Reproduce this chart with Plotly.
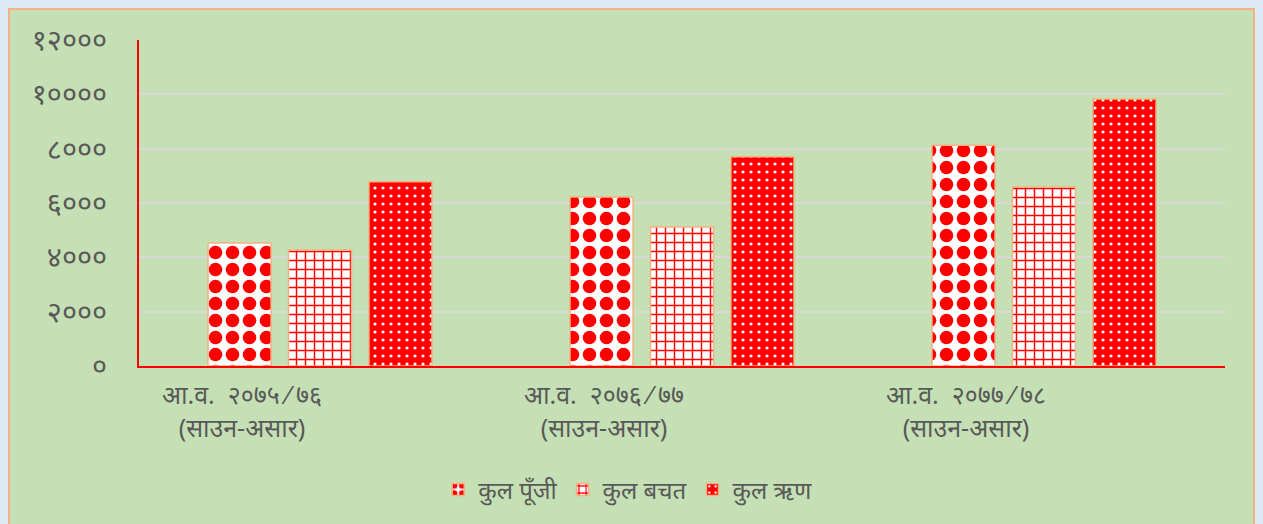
import plotly.graph_objects as go

categories = ["आ.व.  २०७५ ⁄ ७६<br>(साउन-असार)",
              "आ.व.  २०७६ ⁄ ७७<br>(साउन-असार)",
              "आ.व.  २०७७ ⁄ ७८<br>(साउन-असार)"]
series_names = ["कुल पूँजी", "कुल बचत", "कुल ऋण"]
punji = [4530, 6220, 8130]
bachat = [4270, 5120, 6590]
rin = [6780, 7700, 9830]
tick_vals = [0, 2000, 4000, 6000, 8000, 10000, 12000]
tick_text = ["०", "२०००", "४०००", "६०००", "८०००", "१००००", "१२०००"]

RED = "#ff0000"
OUTLINE = "#f4b183"
TXT = "#595959"
FONT = "Noto Sans, Lohit Devanagari, FreeSans, sans-serif"

fig = go.Figure()
fig.add_trace(go.Bar(
    x=categories, y=punji, name=series_names[0],
    marker=dict(color="white", line=dict(color=OUTLINE, width=1.5),
                pattern=dict(shape=".", fgcolor=RED, bgcolor="white",
                             size=17, solidity=0.5, fillmode="replace"))))
fig.add_trace(go.Bar(
    x=categories, y=bachat, name=series_names[1],
    marker=dict(color="white", line=dict(color=OUTLINE, width=1.5),
                pattern=dict(shape="+", fgcolor=RED, bgcolor="white",
                             size=9, solidity=0.3, fillmode="replace"))))
fig.add_trace(go.Bar(
    x=categories, y=rin, name=series_names[2],
    marker=dict(color=RED, line=dict(color=OUTLINE, width=1.5),
                pattern=dict(shape=".", fgcolor="white", bgcolor=RED,
                             size=8, solidity=0.12, fillmode="replace"))))

W, H = 1263, 524
L, R, T, B = 139, 38, 40, 158
pw, ph = W - L - R, H - T - B

# green chart-area box with orange border (paper coords, extending beyond the plot area)
fig.add_shape(type="rect", xref="paper", yref="paper", layer="below",
              x0=(9 - L) / pw, x1=(1254 - L) / pw,
              y0=-(B + 10) / ph, y1=1 + (T - 9) / ph,
              fillcolor="#c5e0b4", line=dict(color=OUTLINE, width=2))

fig.update_layout(
    width=W, height=H,
    margin=dict(l=L, r=R, t=T, b=B),
    paper_bgcolor="#dee9f6",
    plot_bgcolor="rgba(0,0,0,0)",
    barmode="group", bargap=0.333, bargroupgap=0.217,
    font=dict(family=FONT, color=TXT, size=24),
    showlegend=True,
    legend=dict(orientation="h", x=0.45, xanchor="center", y=-0.38, yanchor="middle",
                font=dict(size=24, color=TXT, family=FONT), bgcolor="rgba(0,0,0,0)",
                itemwidth=30),
    xaxis=dict(showline=True, linecolor=RED, linewidth=2, showgrid=False,
               tickfont=dict(size=25, color=TXT, family=FONT),
               ticklabelshift=-78, ticklabelstandoff=6),
    yaxis=dict(range=[0, 12000], tickvals=tick_vals, ticktext=tick_text,
               showline=True, linecolor=RED, linewidth=2,
               showgrid=True, gridcolor="#d9d9d9", gridwidth=1.5, zeroline=False,
               tickfont=dict(size=29, color=TXT, family=FONT),
               ticklabelstandoff=24),
)

fig.write_html("out.html", config={"displayModeBar": False},
               post_script="document.body.style.margin='0';document.body.style.overflow='hidden';")
